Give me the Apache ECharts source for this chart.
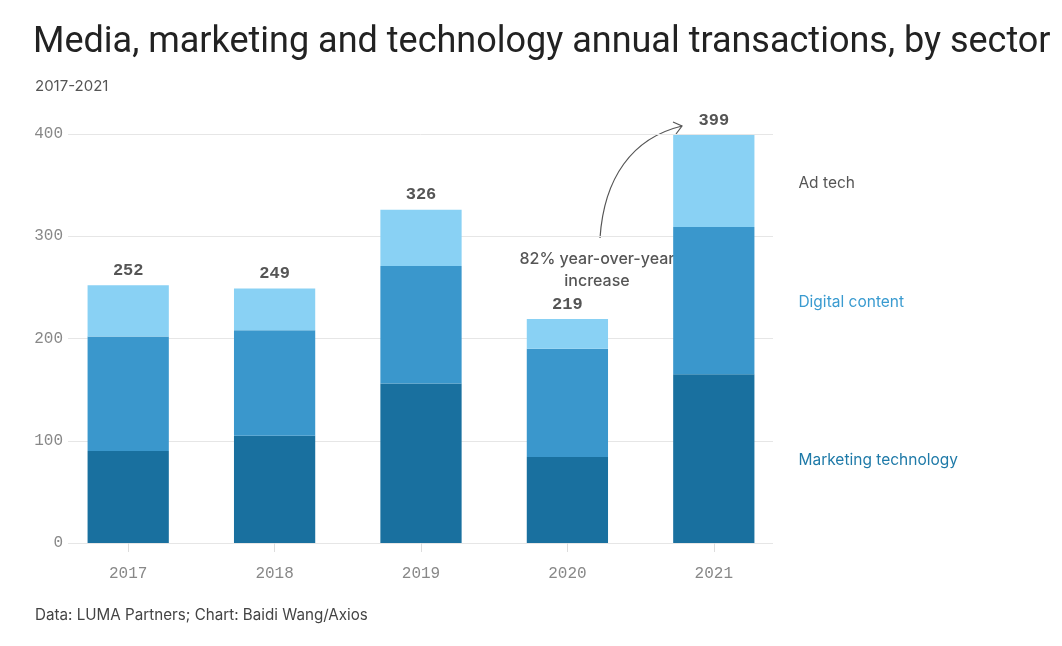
<!DOCTYPE html>
<html>
<head>
<meta charset="utf-8">
<script src="https://cdn.jsdelivr.net/npm/echarts@6/dist/echarts.min.js"></script>
<style>html,body{margin:0;padding:0;background:#fff;}#c{width:1062px;height:646px;}</style>
</head>
<body>
<div id="c"></div>
<script>
const years = ['2017', '2018', '2019', '2020', '2021'];
const marketingTech = [90, 105, 156, 84, 165];
const digitalContent = [112, 103, 115, 106, 144];
const adTech = [50, 41, 55, 29, 90];
const yTicks = [0, 100, 200, 300, 400];
const seriesNames = ['Marketing technology', 'Digital content', 'Ad tech'];

const totals = years.map((_, i) => marketingTech[i] + digitalContent[i] + adTech[i]);

const colors = ['#19709f', '#3a97cc', '#89d1f4'];
const labelColors = ['#1f7aa8', '#3a9bd0', '#555555'];
const mono = "'Liberation Mono', 'DejaVu Sans Mono', monospace";
const sans = "Inter, 'Noto Sans', sans-serif";
const titleFont = "Roboto, Inter, sans-serif";

function buildData(arr, idx) {
  return arr.map((v, i) => {
    if (i === arr.length - 1) {
      return {
        value: v,
        label: {
          show: true, position: 'right', distance: 44, offset: [0, 2],
          formatter: seriesNames[idx],
          color: labelColors[idx], fontFamily: sans, fontSize: 15.5
        }
      };
    }
    return v;
  });
}

const chart = echarts.init(document.getElementById('c'));
chart.setOption({
  animation: false,
  backgroundColor: '#ffffff',
  title: [
    { text: 'Media, marketing and technology annual transactions, by sector', left: 33, top: 25, padding: 0,
      textStyle: { fontFamily: titleFont, fontSize: 36, fontWeight: 400, color: '#222' } },
    { text: '2017-2021', left: 35, top: 79, padding: 0,
      textStyle: { fontFamily: sans, fontSize: 15, fontWeight: 400, color: '#555' } },
    { text: 'Data: LUMA Partners; Chart: Baidi Wang/Axios', left: 35, top: 608, padding: 0,
      textStyle: { fontFamily: sans, fontSize: 15.2, fontWeight: 400, color: '#444' } }
  ],
  grid: [
    { left: 55, right: 275, top: 134, bottom: 103 },
    { left: 68, right: 289, top: 134, bottom: 103 }
  ],
  xAxis: [
    { type: 'category', data: years, gridIndex: 0,
      axisLine: { show: false },
      axisTick: { show: true, alignWithLabel: true, length: 9, lineStyle: { color: '#dddddd' } },
      axisLabel: { fontFamily: mono, fontSize: 16, color: '#888', margin: 23 } },
    { type: 'category', data: years, gridIndex: 1, show: false }
  ],
  yAxis: [
    { type: 'value', gridIndex: 0, min: 0, max: 400, interval: 100, show: false },
    { type: 'value', gridIndex: 1, min: yTicks[0], max: yTicks[yTicks.length - 1], interval: 100,
      axisLine: { show: false }, axisTick: { show: false },
      axisLabel: { fontFamily: mono, fontSize: 16, color: '#888', margin: 5 },
      splitLine: { lineStyle: { color: '#e6e6e6', width: 1 } } }
  ],
  series: [
    { name: seriesNames[0], type: 'bar', stack: 't', barWidth: '55.5%', data: buildData(marketingTech, 0),
      itemStyle: { color: colors[0] }, xAxisIndex: 0, yAxisIndex: 0 },
    { name: seriesNames[1], type: 'bar', stack: 't', data: buildData(digitalContent, 1),
      itemStyle: { color: colors[1] }, xAxisIndex: 0, yAxisIndex: 0 },
    { name: seriesNames[2], type: 'bar', stack: 't', data: buildData(adTech, 2),
      itemStyle: { color: colors[2] }, xAxisIndex: 0, yAxisIndex: 0 },
    { name: 'Total', type: 'line', data: totals, xAxisIndex: 0, yAxisIndex: 0,
      symbol: 'circle', symbolSize: 0, showSymbol: true, lineStyle: { opacity: 0 }, silent: true,
      label: { show: true, position: 'top', distance: 6, fontFamily: mono, fontWeight: 'bold',
        fontSize: 17, color: '#555' } },
    { type: 'line', data: [], xAxisIndex: 1, yAxisIndex: 1 }
  ],
  graphic: [
    { type: 'text', x: 597, y: 270,
      style: { text: '82% year-over-year\nincrease', textAlign: 'center', textVerticalAlign: 'middle',
        font: '500 16px ' + sans, fill: '#555', lineHeight: 22 } },
    { type: 'bezierCurve',
      shape: { x1: 600, y1: 238, cpx1: 604, cpy1: 178, cpx2: 632, cpy2: 138, x2: 682, y2: 126 },
      style: { stroke: '#555', lineWidth: 1.2, fill: null } },
    { type: 'polyline',
      shape: { points: [[673, 122], [682, 126], [676, 134]] },
      style: { stroke: '#555', lineWidth: 1.2, fill: null } }
  ]
});
</script>
</body>
</html>
